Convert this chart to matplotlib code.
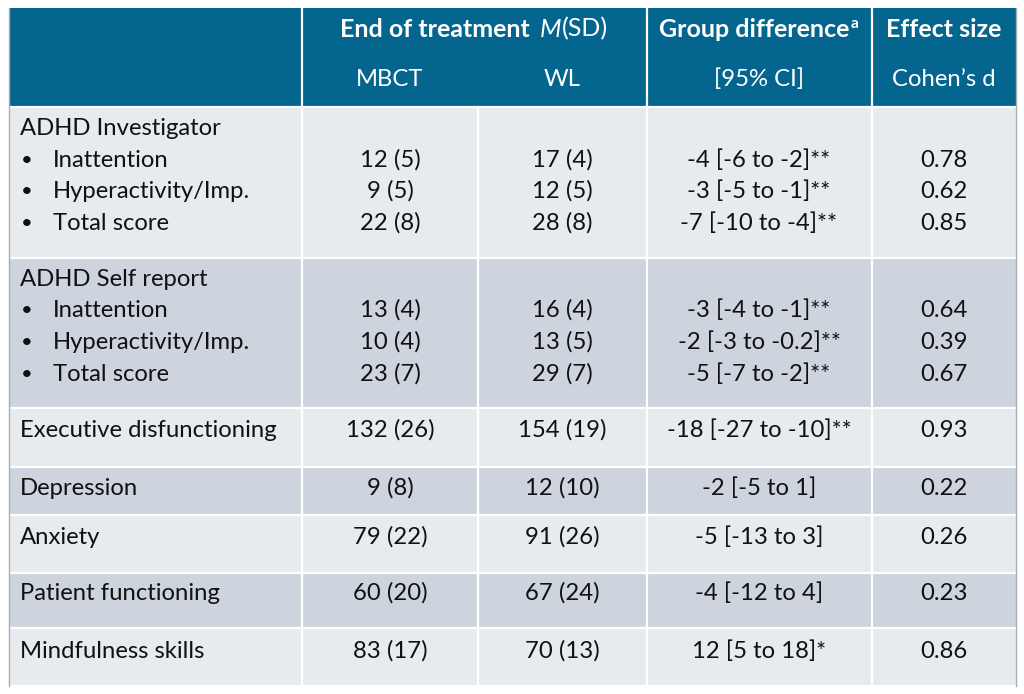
import matplotlib
matplotlib.use("Agg")
import matplotlib.pyplot as plt
from matplotlib.patches import Rectangle

# ---- data ----
group_titles = ["ADHD Investigator", "ADHD Self report"]
labels = ["Inattention", "Hyperactivity/Imp.", "Total score",
          "Inattention", "Hyperactivity/Imp.", "Total score",
          "Executive disfunctioning", "Depression", "Anxiety",
          "Patient functioning", "Mindfulness skills"]
mbct_m = [12, 9, 22, 13, 10, 23, 132, 9, 79, 60, 83]
mbct_sd = [5, 5, 8, 4, 4, 7, 26, 8, 22, 20, 17]
wl_m = [17, 12, 28, 16, 13, 29, 154, 12, 91, 67, 70]
wl_sd = [4, 5, 8, 4, 5, 7, 19, 10, 26, 24, 13]
diff = ["-4", "-3", "-7", "-3", "-2", "-5", "-18", "-2", "-5", "-4", "12"]
ci_lo = ["-6", "-5", "-10", "-4", "-3", "-7", "-27", "-5", "-13", "-12", "5"]
ci_hi = ["-2", "-1", "-4", "-1", "-0.2", "-2", "-10", "1", "3", "4", "18"]
sig = ["**", "**", "**", "**", "**", "**", "**", "", "", "", "*"]
cohen_d = ["0.78", "0.62", "0.85", "0.64", "0.39", "0.67", "0.93", "0.22", "0.26", "0.23", "0.86"]

FONT = "Lato"
FS = 17.2
HFS = 18.0
BLUE = "#04658f"
LIGHT = "#e8ebee"
DARK = "#cdd4dd"
TXT = "#111111"

fig = plt.figure(figsize=(10.24, 6.94), dpi=100)
ax = fig.add_axes([0, 0, 1, 1])
ax.set_xlim(0, 1024)
ax.set_ylim(694, 0)
ax.axis("off")

x0, x1, x2, x3, x4, x5 = 9, 302, 478, 647, 872, 1016
ytop, yhead = 8, 106.7
bands = [(106.7, 257.7, LIGHT), (257.7, 407.7, DARK), (407.7, 466.7, LIGHT),
         (466.7, 515, DARK), (515, 572.7, LIGHT), (572.7, 628, DARK),
         (628, 685, LIGHT)]

ax.add_patch(Rectangle((x0, ytop), x5 - x0, yhead - ytop, color=BLUE, lw=0))
for a, b, c in bands:
    ax.add_patch(Rectangle((x0, a), x5 - x0, b - a, color=c, lw=0))

# white grid lines
for xv in (x1, x3, x4):
    ax.plot([xv, xv], [ytop, 685], color="white", lw=1.6)
ax.plot([x2, x2], [yhead, 685], color="white", lw=1.6)
for a, b, c in bands[1:]:
    ax.plot([x0, x5], [a, a], color="white", lw=1.6)
ax.plot([x0, x5], [yhead, yhead], color="white", lw=1.6)
# outer grey borders
ax.plot([x0, x0], [ytop, 686], color="#a8adb3", lw=1.0)
ax.plot([x5, x5], [ytop, 686], color="#a8adb3", lw=1.0)

renderer = fig.canvas.get_renderer()


def runs_center(xc, y, runs):
    objs = []
    total = 0
    for txt, kw, dy, gap in runs:
        t = ax.text(0, y + dy, txt, va="center", ha="left", family=FONT,
                    color="white", **kw)
        w = t.get_window_extent(renderer).width
        objs.append((t, w, gap))
        total += w + gap
    x = xc - total / 2
    for t, w, gap in objs:
        t.set_x(x)
        x += w + gap


# header
runs_center(474, 29, [("End of treatment", dict(fontsize=HFS, fontweight="bold"), 0, 10),
                      ("M", dict(fontsize=HFS, style="italic"), 0, 0),
                      ("(SD)", dict(fontsize=HFS), 0, 0)])
runs_center(759, 29, [("Group difference", dict(fontsize=HFS, fontweight="bold"), 0, 1),
                      ("a", dict(fontsize=HFS * 0.62, fontweight="bold"), -5, 0)])
ax.text(944, 29, "Effect size", ha="center", va="center", family=FONT,
        fontsize=HFS, fontweight="bold", color="white")
ax.text(390, 79, "MBCT", ha="center", va="center", family=FONT, fontsize=FS, color="white")
ax.text(562, 79, "WL", ha="center", va="center", family=FONT, fontsize=FS, color="white")
ax.text(759, 79, "[95% CI]", ha="center", va="center", family=FONT, fontsize=FS, color="white")
ax.text(944, 79, "Cohen\u2019s d", ha="center", va="center", family=FONT, fontsize=FS, color="white")

# body
title_y = [128, 279]
row_y = [160, 191, 223, 310, 342, 374, 430, 488, 537, 593, 651]
for ty, tt in zip(title_y, group_titles):
    ax.text(20, ty, tt, ha="left", va="center", family=FONT, fontsize=FS, color=TXT)

for i, y in enumerate(row_y):
    if i < 6:
        ax.text(21, y, "\u2022", ha="left", va="center", family=FONT,
                fontsize=FS * 0.85, color=TXT)
        ax.text(53, y, labels[i], ha="left", va="center", family=FONT, fontsize=FS, color=TXT)
    else:
        ax.text(20, y, labels[i], ha="left", va="center", family=FONT, fontsize=FS, color=TXT)
    ax.text(390, y, f"{mbct_m[i]} ({mbct_sd[i]})", ha="center", va="center",
            family=FONT, fontsize=FS, color=TXT)
    ax.text(562, y, f"{wl_m[i]} ({wl_sd[i]})", ha="center", va="center",
            family=FONT, fontsize=FS, color=TXT)
    ax.text(759, y, f"{diff[i]} [{ci_lo[i]} to {ci_hi[i]}]{sig[i]}", ha="center",
            va="center", family=FONT, fontsize=FS, color=TXT)
    ax.text(944, y, cohen_d[i], ha="center", va="center", family=FONT,
            fontsize=FS, color=TXT)

fig.savefig("out.png", dpi=100, facecolor="white")
